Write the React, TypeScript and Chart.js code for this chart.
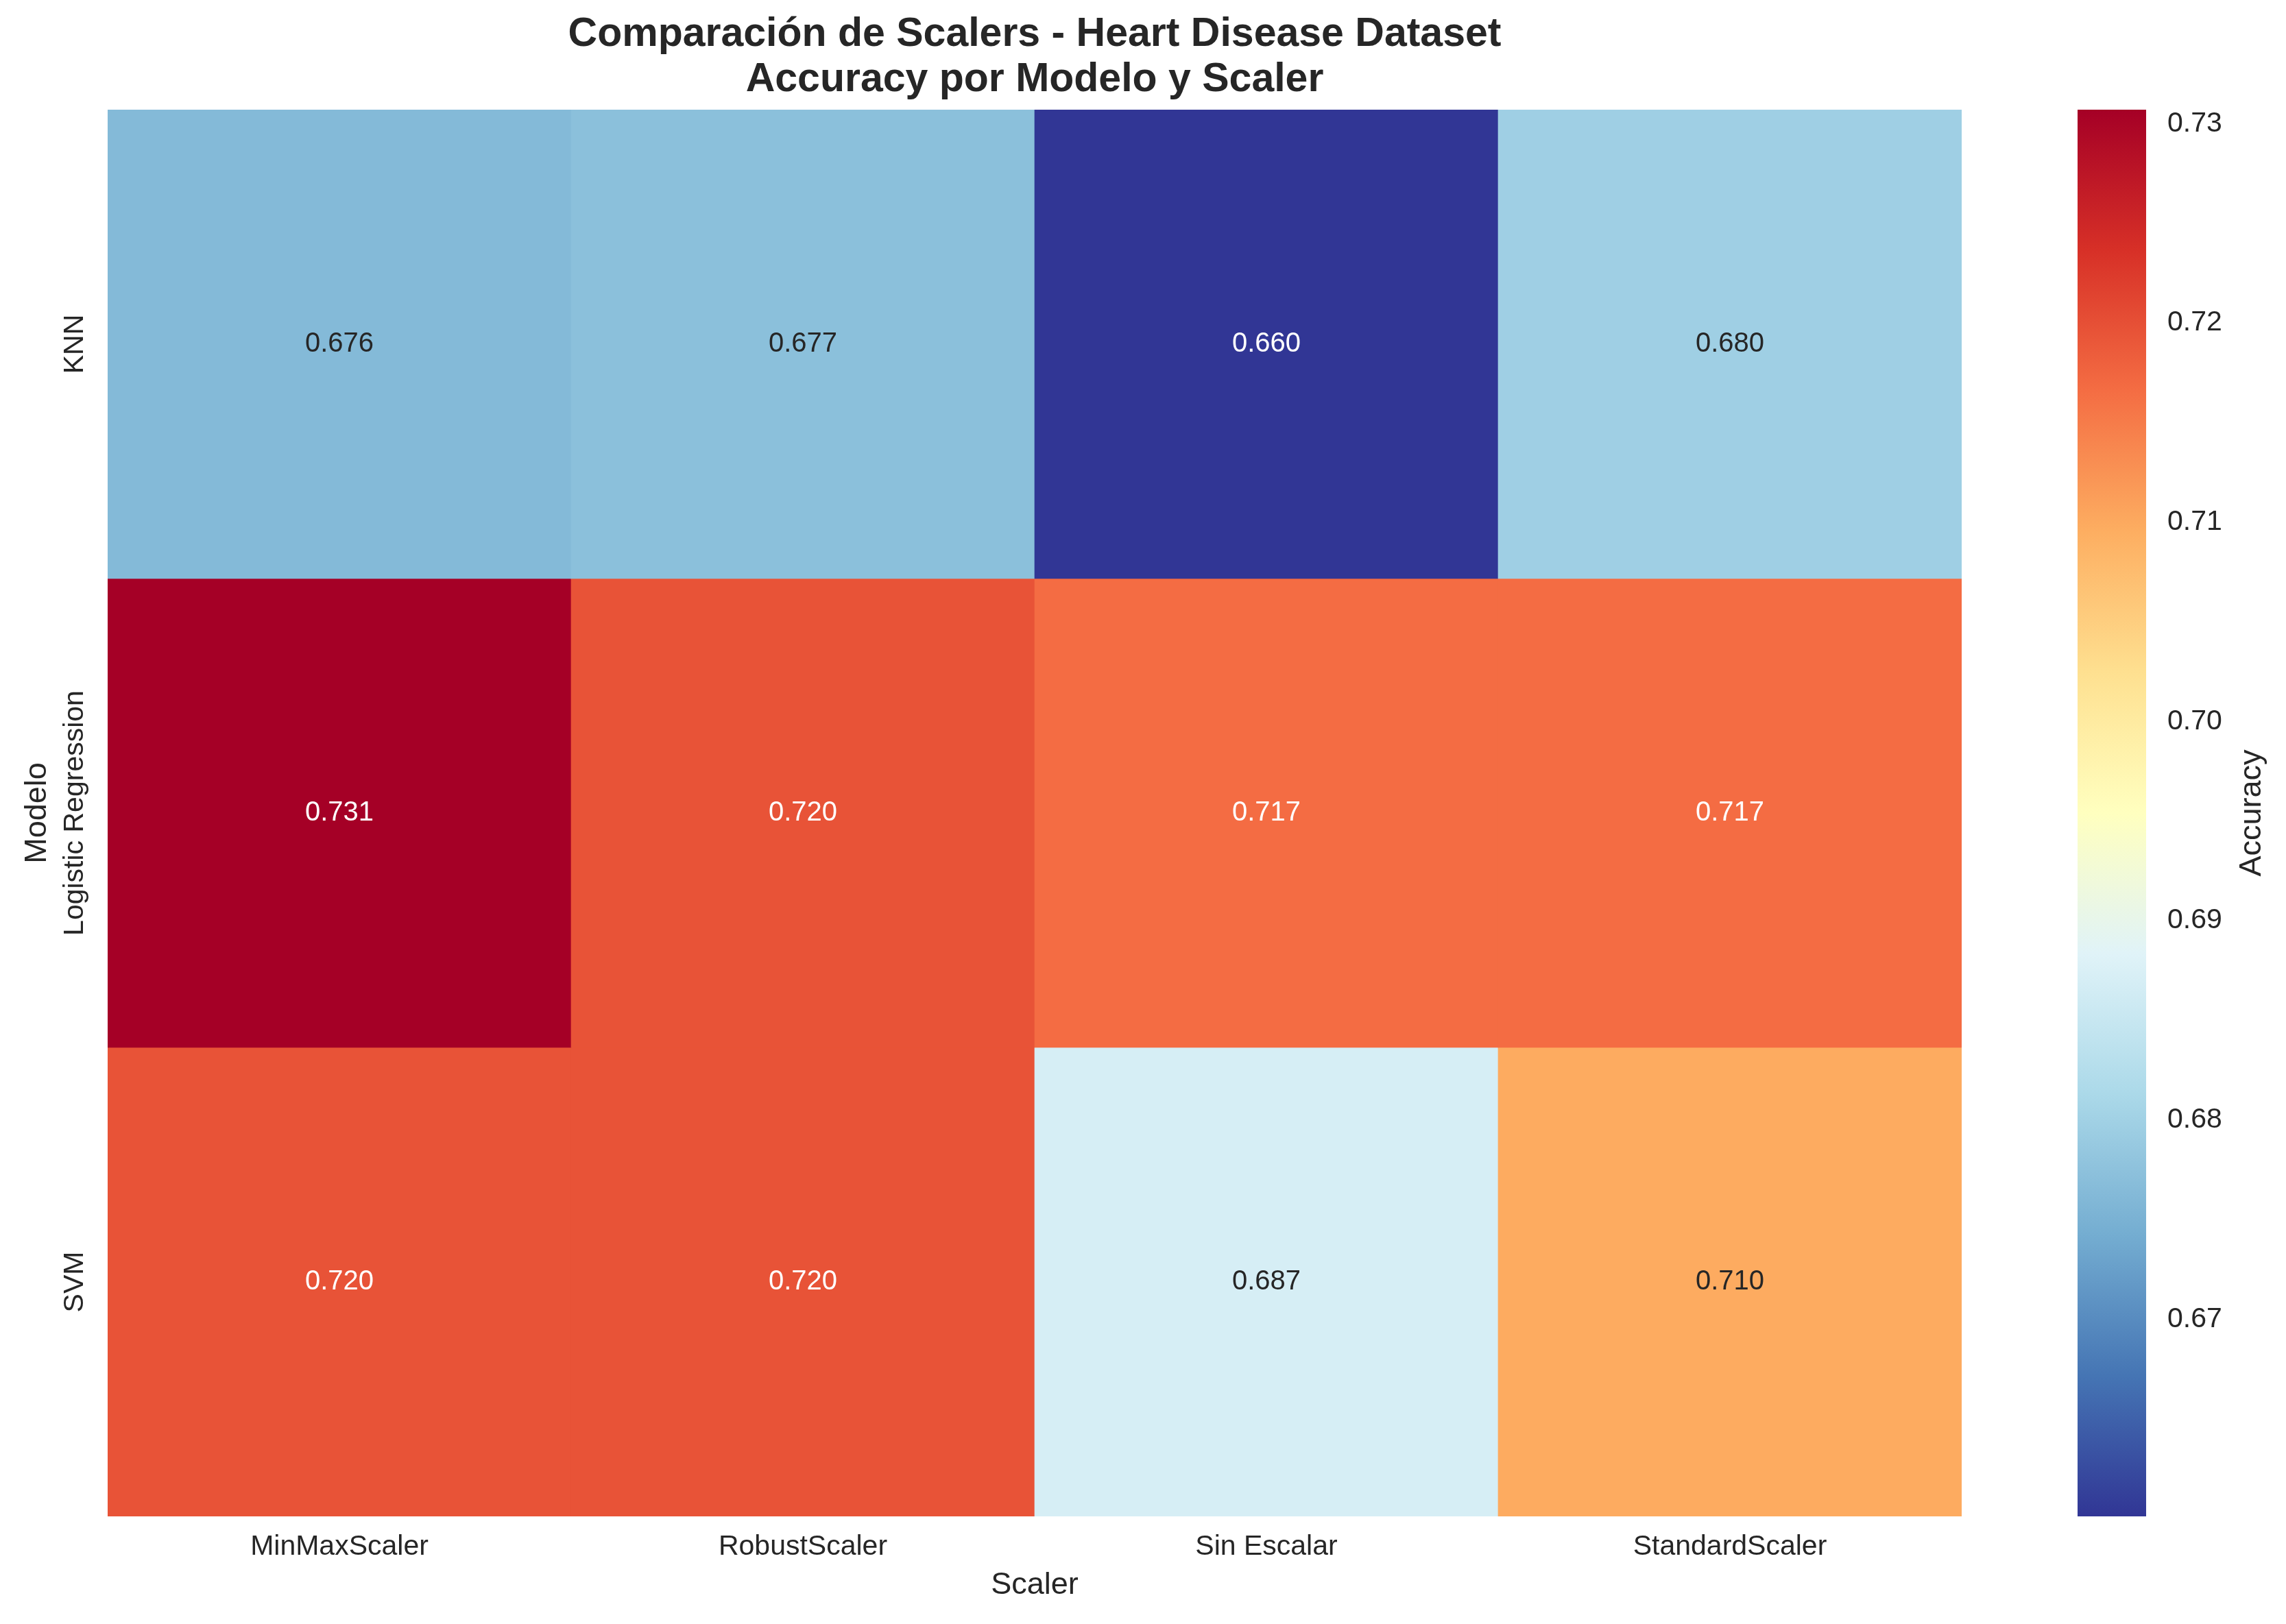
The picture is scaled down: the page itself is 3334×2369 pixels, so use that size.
import React, { useEffect, useRef } from 'react';
import { Chart, registerables } from 'chart.js';

Chart.register(...registerables);

// ---------- data ----------
const models = ['KNN', 'Logistic Regression', 'SVM'];
const scalers = ['MinMaxScaler', 'RobustScaler', 'Sin Escalar', 'StandardScaler'];
const knnAcc = [0.6763, 0.6772, 0.6601, 0.6797];
const logRegAcc = [0.7307, 0.7196, 0.7167, 0.7167];
const svmAcc = [0.7196, 0.7196, 0.687, 0.7098];
const colorbarTicks = [0.67, 0.68, 0.69, 0.7, 0.71, 0.72, 0.73];
const titleLines = ['Comparación de Scalers - Heart Disease Dataset', 'Accuracy por Modelo y Scaler'];
const xTitle = 'Scaler';
const yTitle = 'Modelo';
const cbTitle = 'Accuracy';

const rows = [knnAcc, logRegAcc, svmAcc];
const allVals = rows.flat();
const VMIN = Math.min(...allVals);
const VMAX = Math.max(...allVals);

// RdYlBu_r colormap stops
const CMAP: number[][] = [
  [49, 54, 149], [69, 117, 180], [116, 173, 209], [171, 217, 233], [224, 243, 248],
  [255, 255, 191], [254, 224, 144], [253, 174, 97], [244, 109, 67], [215, 48, 39], [165, 0, 38],
];

function cmapRGB(t: number): number[] {
  const tt = Math.max(0, Math.min(1, t)) * (CMAP.length - 1);
  const i = Math.min(CMAP.length - 2, Math.floor(tt));
  const f = tt - i;
  return CMAP[i].map((c, k) => c + (CMAP[i + 1][k] - c) * f);
}
const rgbStr = (c: number[]) => `rgb(${Math.round(c[0])},${Math.round(c[1])},${Math.round(c[2])})`;
const norm = (v: number) => (v - VMIN) / (VMAX - VMIN);
function luminance(c: number[]): number {
  const l = c.map((x) => {
    const v = x / 255;
    return v <= 0.03928 ? v / 12.92 : Math.pow((v + 0.055) / 1.055, 2.4);
  });
  return 0.2126 * l[0] + 0.7152 * l[1] + 0.0722 * l[2];
}

const FONT = '"Liberation Sans", Arial, Helvetica, sans-serif';
const TEXT = '#262626';
const W = 3334;
const H = 2369;

const heatPlugin = {
  id: 'heatExtras',
  beforeDraw(chart: any) {
    const ctx = chart.ctx;
    ctx.save();
    ctx.fillStyle = '#ffffff';
    ctx.fillRect(0, 0, chart.width, chart.height);
    ctx.restore();
  },
  afterDatasetsDraw(chart: any) {
    const { ctx, chartArea, scales } = chart;
    const xs = scales.x;
    const ys = scales.y;
    ctx.save();
    // annotations
    ctx.font = `40px ${FONT}`;
    ctx.textAlign = 'center';
    ctx.textBaseline = 'middle';
    rows.forEach((vals, r) => {
      vals.forEach((v, c) => {
        const col = cmapRGB(norm(v));
        ctx.fillStyle = luminance(col) > 0.408 ? TEXT : '#ffffff';
        ctx.fillText(v.toFixed(3), xs.getPixelForValue(c), ys.getPixelForValue(r + 0.5));
      });
    });
    // y tick labels (rotated)
    ctx.fillStyle = TEXT;
    ctx.font = `41px ${FONT}`;
    ctx.textBaseline = 'alphabetic';
    models.forEach((m, r) => {
      ctx.save();
      ctx.translate(chartArea.left - 36, ys.getPixelForValue(r + 0.5));
      ctx.rotate(-Math.PI / 2);
      ctx.fillText(m, 0, 0);
      ctx.restore();
    });
    // y axis title
    const midY = (chartArea.top + chartArea.bottom) / 2;
    ctx.font = `45px ${FONT}`;
    ctx.save();
    ctx.translate(chartArea.left - 90, midY);
    ctx.rotate(-Math.PI / 2);
    ctx.fillText(yTitle, 0, 0);
    ctx.restore();
    // colorbar
    const cb = scales.cb;
    const cbLeft = chartArea.right + 169;
    const cbW = 100;
    const top = cb.getPixelForValue(VMAX);
    const bottom = cb.getPixelForValue(VMIN);
    const grad = ctx.createLinearGradient(0, bottom, 0, top);
    CMAP.forEach((c, i) => grad.addColorStop(i / (CMAP.length - 1), rgbStr(c)));
    ctx.fillStyle = grad;
    ctx.fillRect(cbLeft, top, cbW, bottom - top);
    // colorbar title
    ctx.fillStyle = TEXT;
    ctx.font = `45px ${FONT}`;
    ctx.save();
    ctx.translate(chartArea.right + 436, midY);
    ctx.rotate(-Math.PI / 2);
    ctx.fillText(cbTitle, 0, 0);
    ctx.restore();
    ctx.restore();
  },
};

export default function App() {
  const ref = useRef<HTMLCanvasElement>(null);
  useEffect(() => {
    if (!ref.current) return;
    const chart = new Chart(ref.current, {
      type: 'bar',
      data: {
        labels: scalers,
        datasets: rows.map((vals, r) => ({
          label: models[r],
          data: vals.map(() => [r, r + 1]) as any,
          backgroundColor: vals.map((v) => rgbStr(cmapRGB(norm(v)))),
          borderWidth: 0,
          grouped: false,
          barPercentage: 1,
          categoryPercentage: 1,
          xAxisID: 'x',
          yAxisID: 'y',
        })),
      },
      options: {
        responsive: false,
        animation: false,
        devicePixelRatio: 1,
        layout: { padding: { left: 157, right: 0, top: 0, bottom: 0 } },
        plugins: {
          legend: { display: false },
          tooltip: { enabled: false },
          title: {
            display: true,
            text: titleLines,
            position: 'top',
            fullSize: false,
            align: 'center',
            color: TEXT,
            font: { family: FONT, size: 59, weight: 'bold', lineHeight: 66 / 59 },
            padding: { top: 18, bottom: 10 },
          },
        },
        scales: {
          x: {
            type: 'category',
            position: 'bottom',
            offset: true,
            grid: { display: false, drawTicks: false },
            border: { display: false },
            ticks: {
              color: TEXT,
              font: { family: FONT, size: 41 },
              padding: 20,
              maxRotation: 0,
              minRotation: 0,
            },
            title: {
              display: true,
              text: xTitle,
              color: TEXT,
              font: { family: FONT, size: 45 },
              padding: { top: 0, bottom: 29 },
            },
            afterFit: (s: any) => {
              s.height = 157;
              s.paddingLeft = 0;
              s.paddingRight = 0;
            },
          },
          y: {
            type: 'linear',
            min: 0,
            max: models.length,
            reverse: true,
            display: false,
          },
          cb: {
            type: 'linear',
            position: 'right',
            min: VMIN,
            max: VMAX,
            grid: { display: false, drawTicks: false },
            border: { display: false },
            afterBuildTicks: (s: any) => {
              s.ticks = colorbarTicks.map((v) => ({ value: v }));
            },
            afterFit: (s: any) => {
              s.width = 473;
              s.paddingTop = 0;
              s.paddingBottom = 0;
            },
            ticks: {
              color: TEXT,
              font: { family: FONT, size: 41 },
              padding: 300,
              callback: (v: any) => Number(v).toFixed(2),
            },
          },
        },
      } as any,
      plugins: [heatPlugin],
    });
    return () => chart.destroy();
  }, []);
  return (
    <div style={{ position: 'fixed', left: 0, top: 0, width: W, height: H, background: '#fff' }}>
      <canvas ref={ref} width={W} height={H} style={{ width: W, height: H, display: 'block' }} />
    </div>
  );
}
